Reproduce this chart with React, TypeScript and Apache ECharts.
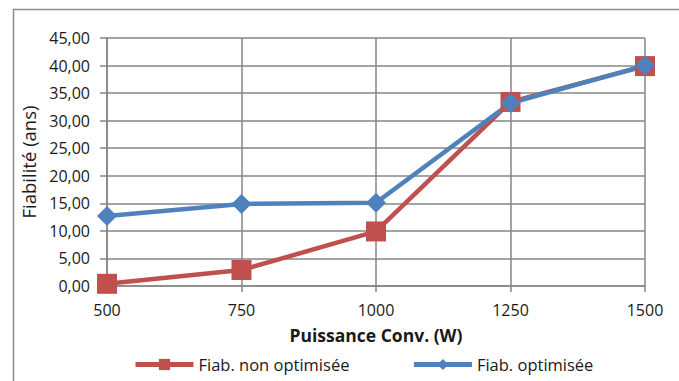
import React, { useEffect, useRef } from "react";
import * as echarts from "echarts";

const categories = ["500", "750", "1000", "1250", "1500"];
const nonOptimisee = [0.4, 2.9, 9.9, 33.4, 39.9];
const optimisee = [12.7, 14.9, 15.1, 33.2, 40.0];
const yTicks = { min: 0, max: 45, interval: 5 };

const FONT = "'Open Sans', Lato, sans-serif";

export default function App() {
  const ref = useRef<HTMLDivElement>(null);
  useEffect(() => {
    if (!ref.current) return;
    const chart = echarts.init(ref.current, undefined, { renderer: "svg" });
    chart.setOption({
      animation: false,
      backgroundColor: "#ffffff",
      textStyle: { fontFamily: FONT },
      graphic: [
        {
          type: "rect",
          shape: { x: 13.5, y: 9.5, width: 700, height: 400 },
          style: { fill: "none", stroke: "#8c8c8c", lineWidth: 1.5 },
          silent: true,
        },
      ],
      grid: { left: 107, top: 38, right: 34, bottom: 95, containLabel: false },
      legend: {
        top: 351,
        left: 128,
        itemWidth: 58,
        itemHeight: 14,
        itemGap: 62,
        lineStyle: { width: 5 },
        textStyle: { fontSize: 16.5, color: "#1a1a1a", fontFamily: FONT },
        data: ["Fiab. non optimisée", "Fiab. optimisée"],
      },
      xAxis: {
        type: "category",
        data: categories,
        boundaryGap: false,
        name: "Puissance Conv. (W)",
        nameLocation: "middle",
        nameGap: 40,
        nameTextStyle: { fontSize: 17.5, fontWeight: "bold", color: "#1a1a1a", fontFamily: FONT },
        axisLine: { lineStyle: { color: "#868686", width: 1.5 } },
        axisTick: { show: true, length: 6, lineStyle: { color: "#868686", width: 1.5 } },
        axisLabel: { fontSize: 16, color: "#1a1a1a", margin: 16, fontFamily: FONT },
        splitLine: { show: true, lineStyle: { color: "#868686", width: 1.5 } },
      },
      yAxis: {
        type: "value",
        min: yTicks.min,
        max: yTicks.max,
        interval: yTicks.interval,
        name: "Fiabilité (ans)",
        nameLocation: "middle",
        nameGap: 68,
        nameTextStyle: { fontSize: 18.5, color: "#1a1a1a", fontFamily: FONT },
        axisLine: { show: true, lineStyle: { color: "#868686", width: 1.5 } },
        axisTick: { show: true, length: 7, lineStyle: { color: "#868686", width: 1.5 } },
        axisLabel: {
          fontSize: 16,
          color: "#1a1a1a",
          margin: 17,
          fontFamily: FONT,
          formatter: (v: number) => v.toFixed(2).replace(".", ","),
        },
        splitLine: { show: true, lineStyle: { color: "#868686", width: 1.5 } },
      },
      series: [
        {
          name: "Fiab. non optimisée",
          type: "line",
          data: nonOptimisee,
          symbol: "rect",
          symbolSize: 20,
          lineStyle: { color: "#C0504D", width: 4.5 },
          itemStyle: { color: "#C0504D" },
        },
        {
          name: "Fiab. optimisée",
          type: "line",
          data: optimisee,
          symbol: "diamond",
          symbolSize: 20,
          lineStyle: { color: "#4F81BD", width: 4.5 },
          itemStyle: { color: "#4F81BD" },
        },
      ],
    });
    return () => chart.dispose();
  }, []);
  return (
    <div
      ref={ref}
      style={{ position: "fixed", left: 0, top: 0, width: 679, height: 381 }}
    />
  );
}
